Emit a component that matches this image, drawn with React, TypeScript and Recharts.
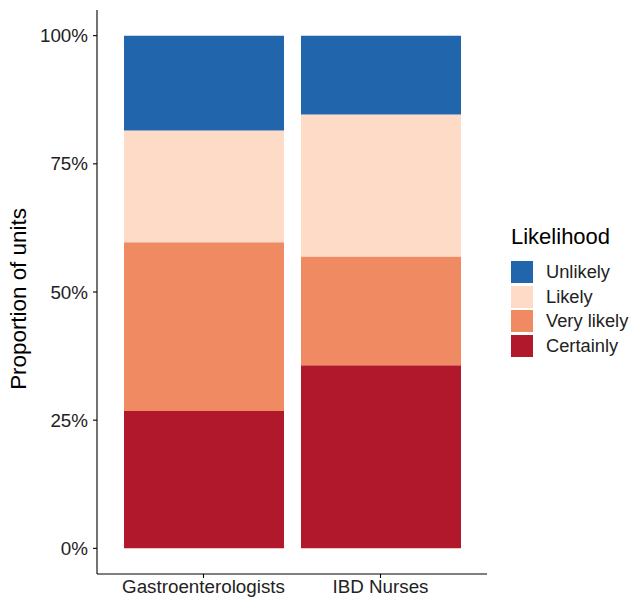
import React from "react"
import { BarChart, Bar, XAxis, YAxis, Legend, Label } from "recharts"

const groups = ["Gastroenterologists", "IBD Nurses"]
const certainly = [0.268, 0.357]
const veryLikely = [0.329, 0.212]
const likely = [0.218, 0.277]
const unlikely = [0.185, 0.154]
const yTicks = [0, 0.25, 0.5, 0.75, 1]

const series = [
  { key: "certainly", name: "Certainly", color: "#B2182B" },
  { key: "veryLikely", name: "Very likely", color: "#EF8A62" },
  { key: "likely", name: "Likely", color: "#FDDBC7" },
  { key: "unlikely", name: "Unlikely", color: "#2166AC" },
]

const data = groups.map((g, i) => ({
  group: g,
  certainly: certainly[i],
  veryLikely: veryLikely[i],
  likely: likely[i],
  unlikely: unlikely[i],
}))

const FONT = "'Liberation Sans', Arial, Helvetica, sans-serif"
const TEXT = "#222222"

// keep the ggplot order (top of stack first) instead of recharts' sorted payload
function LegendBox() {
  const items = [...series].reverse()
  return (
    <div style={{ fontFamily: FONT, color: "#000" }}>
      <div style={{ fontSize: 22, lineHeight: "22px", marginBottom: 12 }}>Likelihood</div>
      {items.map((it) => (
        <div key={it.key} style={{ display: "flex", alignItems: "center", height: 24.5 }}>
          <div style={{ width: 22, height: 22, background: it.color, marginRight: 13 }} />
          <span style={{ fontSize: 18.3, color: TEXT }}>{it.name}</span>
        </div>
      ))}
    </div>
  )
}

export default function App() {
  return (
    <div style={{ position: "absolute", left: 0, top: 0, background: "#fff" }}>
      <BarChart
        width={633}
        height={605}
        data={data}
        margin={{ top: 10, right: 24, bottom: 0, left: 0 }}
        barSize={160}
      >
        <XAxis
          dataKey="group"
          height={31}
          interval={0}
          padding={{ left: 18, right: 18 }}
          axisLine={{ stroke: "#000", strokeWidth: 1.1 }}
          tickLine={{ stroke: "#000", strokeWidth: 1.1 }}
          tickSize={4}
          tick={{ fill: TEXT, fontSize: 18.8, fontFamily: FONT }}
          tickMargin={2}
        />
        <YAxis
          width={97}
          type="number"
          domain={[-0.05, 1.05]}
          ticks={yTicks}
          allowDataOverflow
          tickFormatter={(v: number) => `${Math.round(v * 100)}%`}
          axisLine={{ stroke: "#000", strokeWidth: 1.1 }}
          tickLine={{ stroke: "#000", strokeWidth: 1.1 }}
          tickSize={4}
          tick={{ fill: TEXT, fontSize: 18.8, fontFamily: FONT }}
          tickMargin={5}
        >
          <Label
            content={() => (
              <text
                x={26}
                y={299}
                transform="rotate(-90 26 299)"
                textAnchor="middle"
                fill="#000"
                fontSize={22.4}
                fontFamily={FONT}
              >
                Proportion of units
              </text>
            )}
          />
        </YAxis>
        <Legend
          layout="vertical"
          align="right"
          verticalAlign="top"
          content={<LegendBox />}
          wrapperStyle={{ left: 511, top: 226, width: 122 }}
        />
        {series.map((s) => (
          <Bar
            key={s.key}
            dataKey={s.key}
            name={s.name}
            stackId="a"
            fill={s.color}
            isAnimationActive={false}
          />
        ))}
      </BarChart>
    </div>
  )
}
